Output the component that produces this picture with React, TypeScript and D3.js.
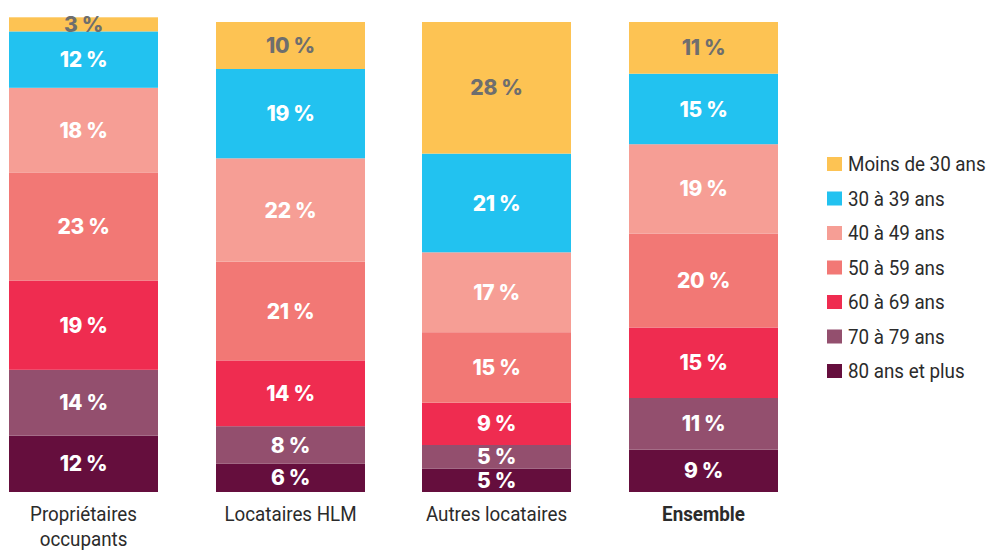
import React from "react";
import * as d3 from "d3";

const categories = ["Propriétaires occupants", "Locataires HLM", "Autres locataires", "Ensemble"];
const categoryLines = [["Propriétaires", "occupants"], ["Locataires HLM"], ["Autres locataires"], ["Ensemble"]];
const seriesNames = ["80 ans et plus", "70 à 79 ans", "60 à 69 ans", "50 à 59 ans", "40 à 49 ans", "30 à 39 ans", "Moins de 30 ans"];
const seriesColors = ["#650E3D", "#934F6E", "#EF2C50", "#F27875", "#F69E95", "#22C2F0", "#FDC353"];
// values per category, bottom (80+) to top (<30)
const values = [
  [12, 14, 19, 23, 18, 12, 3],
  [6, 8, 14, 21, 22, 19, 10],
  [5, 5, 9, 15, 17, 21, 28],
  [9, 11, 15, 20, 19, 15, 11],
];

const SX = 0.895;

export default function App() {
  const W = 989, H = 550;
  const x = d3.scalePoint().domain(categories).range([9, 629]);
  const y = d3.scaleLinear().domain([0, 100]).range([492, 22]);
  const bw = 149;
  const legendOrder = [...seriesNames].reverse();
  const legendColors = [...seriesColors].reverse();
  return (
    <svg width={W} height={H} style={{ position: "absolute", left: 0, top: 0 }}>
      <rect width={W} height={H} fill="#fff" />
      {categories.map((c, ci) => {
        const stack = d3.cumsum(values[ci]);
        const x0 = Math.round(x(c) as number);
        const cx = x0 + bw / 2;
        return (
          <g key={c}>
            {values[ci].map((v, si) => {
              const top = y(stack[si]);
              const bot = y(stack[si] - v);
              return (
                <g key={si}>
                  <rect x={x0} y={top} width={bw} height={bot - top} fill={seriesColors[si]} />
                  <text
                    x={cx}
                    y={(top + bot) / 2}
                    dy="0.36em"
                    textAnchor="middle"
                    fontFamily="Inter, Roboto, sans-serif"
                    fontWeight={800}
                    fontSize={21}
                    letterSpacing={-0.3}
                    fill={si === 6 ? "#6E6E6E" : "#ffffff"}
                  >
                    {v} %
                  </text>
                </g>
              );
            })}
            {categoryLines[ci].map((ln, li) => (
              <text
                key={li}
                transform={`translate(${cx}, ${521 + li * 25}) scale(${SX}, 1)`}
                textAnchor="middle"
                fontFamily="Roboto, sans-serif"
                fontWeight={ci === 3 ? 700 : 400}
                fontSize={21}
                fill="#2b2b2b"
              >
                {ln}
              </text>
            ))}
          </g>
        );
      })}
      {legendOrder.map((n, i) => (
        <g key={n} transform={`translate(827, ${157 + i * 34.5})`}>
          <rect width={15} height={14} fill={legendColors[i]} />
          <text transform={`translate(21, 14) scale(${SX}, 1)`} fontFamily="Roboto, sans-serif" fontSize={21} fill="#2b2b2b">
            {n}
          </text>
        </g>
      ))}
    </svg>
  );
}
